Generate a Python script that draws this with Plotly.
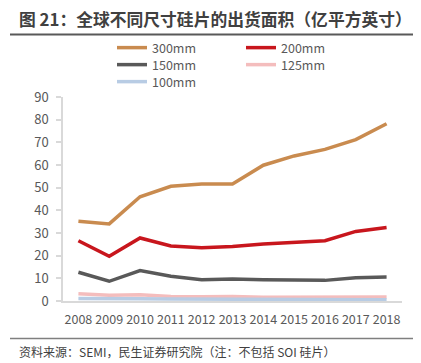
import plotly.graph_objects as go

years = ["2008", "2009", "2010", "2011", "2012", "2013", "2014", "2015", "2016", "2017", "2018"]
s300 = [35.2, 34.0, 46.0, 50.6, 51.6, 51.6, 59.9, 64.0, 66.9, 71.2, 78.2]
s200 = [26.6, 19.7, 27.8, 24.3, 23.5, 24.0, 25.1, 25.9, 26.6, 30.7, 32.4]
s150 = [12.7, 8.7, 13.4, 10.9, 9.4, 9.7, 9.4, 9.1, 9.1, 10.3, 10.6]
s125 = [3.2, 2.5, 2.8, 2.0, 1.9, 2.0, 1.7, 1.8, 1.6, 1.9, 1.8]
s100 = [1.1, 0.9, 1.0, 0.9, 0.8, 0.8, 0.7, 0.7, 0.7, 0.6, 0.5]
yticks = [0, 10, 20, 30, 40, 50, 60, 70, 80, 90]

# page body has an 8px default margin; work in reference pixels and shift
OFF = 8
W, H = 421 - OFF, 363 - OFF
# plot area in reference pixels: x 63..402, y 97..301
L_, R_, T_, B_ = 63, 402, 97, 301
ML, MT = L_ - OFF, T_ - OFF
MR, MB = 421 - R_, 363 - B_
PW = R_ - L_
PH = B_ - T_

def px(x):
    return (x - L_) / PW

def py(y):
    return (B_ - y) / PH

FONT = "Noto Sans CJK SC"
series = [
    ("300mm", s300, "#C98B4F", "legend"),
    ("200mm", s200, "#C8161D", "legend"),
    ("150mm", s150, "#595959", "legend2"),
    ("125mm", s125, "#F4BDBD", "legend2"),
    ("100mm", s100, "#B8CCE4", "legend3"),
]

fig = go.Figure()
for name, vals, col, lg in series:
    fig.add_trace(go.Scatter(x=years, y=vals, name=name, mode="lines",
                             line=dict(color=col, width=3.5), legend=lg))

legcommon = dict(orientation="h", xanchor="left", yanchor="middle",
                 font=dict(family=FONT, size=12.5, color="#595959"),
                 entrywidth=84, itemwidth=30, bgcolor="rgba(0,0,0,0)",
                 traceorder="normal", tracegroupgap=0)

fig.update_layout(
    width=W, height=H,
    margin=dict(l=ML, r=MR, t=MT, b=MB, autoexpand=False),
    paper_bgcolor="white", plot_bgcolor="white",
    font=dict(family=FONT, color="#595959"),
    title=dict(text="<b>图 21：全球不同尺寸硅片的出货面积（亿平方英寸）</b>",
               xref="container", yref="container", x=(19 - OFF) / W, y=1 - (20 - OFF) / H,
               xanchor="left", yanchor="middle",
               font=dict(family=FONT, size=16.8, color="#404040")),
    legend=dict(x=px(112), y=py(48), **legcommon),
    legend2=dict(x=px(112), y=py(65), **legcommon),
    legend3=dict(x=px(112), y=py(82), **legcommon),
    xaxis=dict(type="category", range=[-0.5, 10.5], showgrid=False,
               showline=True, linecolor="#D9D9D9", linewidth=1.5,
               ticks="", tickfont=dict(family=FONT, size=12.5, color="#595959"),
               ticklabelstandoff=6),
    yaxis=dict(range=[0, 90], tickvals=yticks, showgrid=False, zeroline=False,
               showline=True, linecolor="#D9D9D9", linewidth=1.5,
               ticks="outside", ticklen=5, tickcolor="#D9D9D9", tickwidth=1.5,
               tickfont=dict(family=FONT, size=13, color="#595959"),
               ticklabelstandoff=5),
    showlegend=True,
)

fig.add_shape(type="line", xref="paper", yref="paper",
              x0=px(10), x1=px(416), y0=py(34.5), y1=py(34.5),
              line=dict(color="#595959", width=2))
fig.add_shape(type="line", xref="paper", yref="paper",
              x0=px(10), x1=px(416), y0=py(338.5), y1=py(338.5),
              line=dict(color="#7F7F7F", width=1.5))
fig.add_annotation(text="资料来源：SEMI，民生证券研究院（注：不包括 SOI 硅片）",
                   xref="paper", yref="paper", x=px(17), y=py(351),
                   xanchor="left", yanchor="middle", showarrow=False,
                   font=dict(family=FONT, size=12, color="#404040"))

fig.write_html("out.html")
